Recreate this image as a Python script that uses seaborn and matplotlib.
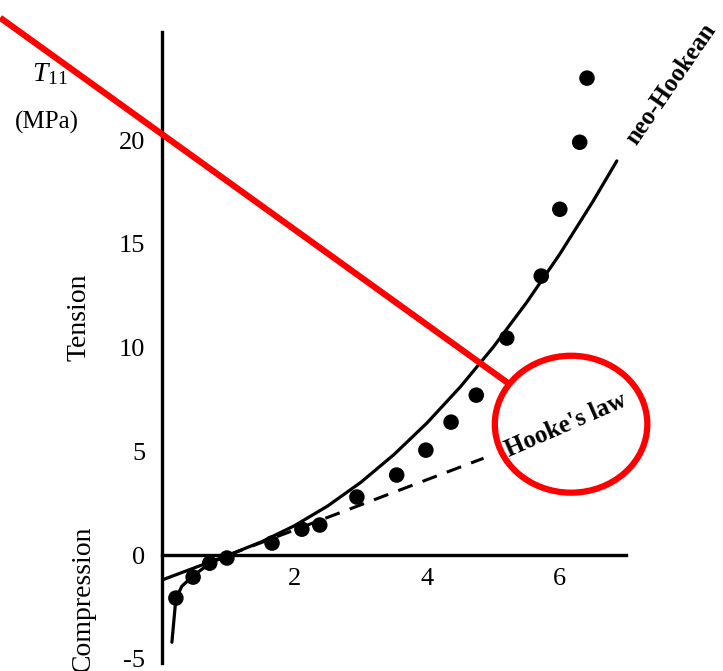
import matplotlib
matplotlib.use("Agg")
import matplotlib.pyplot as plt
import seaborn as sns
from matplotlib.patches import Ellipse

# measured points (stretch vs. T11 in MPa)
stretch = [0.21, 0.47, 0.72, 0.98, 1.66, 2.11, 2.38, 2.94, 3.54, 3.98,
           4.36, 4.74, 5.2, 5.72, 6.0, 6.3, 6.41]
stress = [-2.07, -1.06, -0.39, -0.14, 0.58, 1.25, 1.45, 2.8, 3.86, 5.06,
          6.41, 7.71, 10.46, 13.45, 16.67, 19.9, 22.99]

# neo-Hookean curve
nh_x = [0.15, 0.21, 0.3, 0.47, 0.72, 1.0, 1.5, 2.0, 2.5, 3.0, 3.5, 4.0,
        4.5, 5.0, 5.5, 6.0, 6.5, 6.86]
nh_y = [-4.2, -2.1, -1.5, -1.0, -0.4, 0.0, 0.64, 1.42, 2.37, 3.51, 4.85,
        6.38, 8.11, 10.04, 12.18, 14.51, 17.05, 19.0]

# Hooke's law: solid in compression, dashed in tension
hk_solid_x = [0.0, 1.0]
hk_solid_y = [-1.2, 0.0]
hk_dash_x = [1.0, 4.85]
hk_dash_y = [0.0, 4.67]

yticks = [-5, 0, 5, 10, 15, 20]
xticks = [2, 4, 6]

# red markup drawn over the scan
red_line_x = [-2.44, 5.22]
red_line_y = [25.9, 8.29]
circle_center = (6.17, 6.31)

sns.set_style("white")
plt.rcParams["font.family"] = ["Liberation Serif", "DejaVu Serif"]
plt.rcParams["mathtext.fontset"] = "custom"
plt.rcParams["mathtext.rm"] = "Liberation Serif"
plt.rcParams["mathtext.it"] = "Liberation Serif:italic"
plt.rcParams["axes.unicode_minus"] = False
plt.rcParams["text.color"] = "black"

fig = plt.figure(figsize=(7.23, 6.71), dpi=100)
ax = fig.add_axes([0.224, 0.0119, 0.642, 0.940])

sns.lineplot(x=nh_x, y=nh_y, sort=False, color="black", lw=2.3, ax=ax)
sns.lineplot(x=hk_solid_x, y=hk_solid_y, sort=False, color="black", lw=2.3, ax=ax)
ax.plot(hk_dash_x, hk_dash_y, color="black", lw=2.2, linestyle=(0, (5, 3.5)))
sns.scatterplot(x=stretch, y=stress, color="black", s=125, edgecolor="none",
                ax=ax, zorder=3)

ax.set_xlim(0, 7.0)
ax.set_ylim(-5.2, 25.2)
ax.set_xticks(xticks)
ax.set_yticks(yticks)
ax.set_xticklabels([str(t) for t in xticks])
ax.set_yticklabels([str(t) for t in yticks])

for side in ["top", "right"]:
    ax.spines[side].set_visible(False)
ax.spines["bottom"].set_position(("data", 0))
for side in ["left", "bottom"]:
    ax.spines[side].set_linewidth(2.4)
    ax.spines[side].set_color("black")

ax.tick_params(axis="y", direction="in", length=9, width=2.2, pad=12,
               labelsize=19, colors="black")
ax.tick_params(axis="x", direction="in", length=8, width=2.0, pad=9,
               labelsize=19, colors="black")
ax.set_facecolor("none")

# axis captions in figure pixel coordinates
px = lambda x, y: (x / 723, 1 - y / 671)
fig.text(*px(50, 74), r"$T_{11}$", fontsize=20, ha="center", va="center")
fig.text(*px(47, 122), "(MPa)", fontsize=18, ha="center", va="center")
fig.text(*px(79, 317), "Tension", fontsize=20, rotation=90,
         ha="center", va="center")
fig.text(*px(83, 525), "Compression", fontsize=20, rotation=90,
         ha="center", va="top")

ax.text(7.68, 22.7, "neo-Hookean", fontsize=18, fontweight="bold",
        rotation=55.5, ha="center", va="center")
ax.text(6.09, 6.27, "Hooke's law", fontsize=18, fontweight="bold",
        rotation=23.5, ha="center", va="center", zorder=5)

ax.plot(red_line_x, red_line_y, color="#ff0000", lw=4.5, clip_on=False,
        solid_capstyle="butt", zorder=6)
ax.add_patch(Ellipse(circle_center, 2.3, 6.6, fill=False, edgecolor="#ff0000",
                     lw=4.5, clip_on=False, zorder=6))

fig.savefig("out.png", dpi=100)
